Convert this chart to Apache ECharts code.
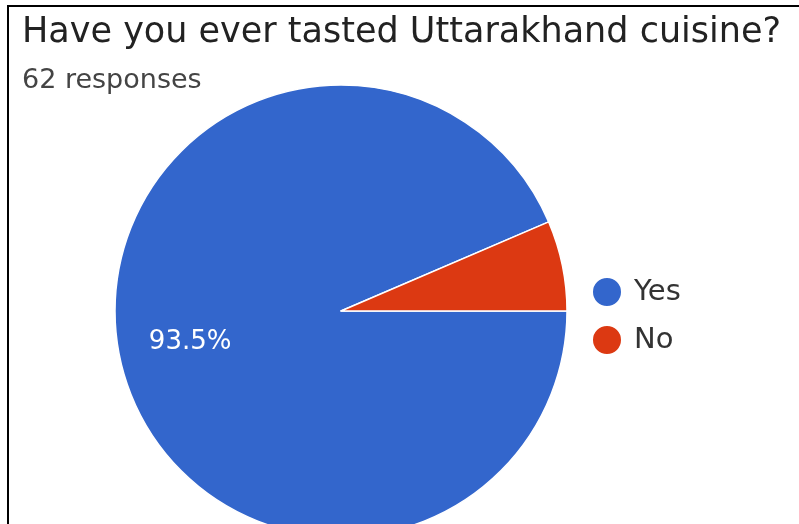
<!DOCTYPE html>
<html>
<head>
<meta charset="utf-8">
<script src="https://cdn.jsdelivr.net/npm/echarts@6/dist/echarts.min.js"></script>
<style>
html,body{margin:0;padding:0;background:#fff;}
#chart{width:799px;height:524px;}
</style>
</head>
<body>
<div id="chart"></div>
<script>
const titleText = "Have you ever tasted Uttarakhand cuisine?";
const subtitleText = "62 responses";
const categories = ["Yes", "No"];
const counts = [58, 4];
const colors = ["#3366cc", "#dc3912"];

const total = counts.reduce((a, b) => a + b, 0);
const pieData = categories.map((c, i) => ({ name: c, value: counts[i], itemStyle: { color: colors[i] } }));
const FONT = 'DejaVu Sans';

const chart = echarts.init(document.getElementById('chart'), null, { renderer: 'canvas' });
chart.setOption({
  backgroundColor: '#ffffff',
  animation: false,
  title: [
    { text: titleText, left: 17, top: 10, textStyle: { fontFamily: FONT, fontSize: 35, fontWeight: 'normal', color: '#222222' } },
    { text: subtitleText, left: 17, top: 62, textStyle: { fontFamily: FONT, fontSize: 27, fontWeight: 'normal', color: '#444444' } }
  ],
  legend: {
    orient: 'vertical',
    left: 586,
    top: 271,
    icon: 'circle',
    itemWidth: 30,
    itemHeight: 30,
    itemGap: 16,
    data: categories,
    textStyle: { fontFamily: FONT, fontSize: 29, color: '#333333', padding: [0, 0, 0, 7] }
  },
  graphic: [
    { type: 'line', shape: { x1: 7, y1: 6, x2: 799, y2: 6 }, style: { stroke: '#000', lineWidth: 2 } },
    { type: 'line', shape: { x1: 8, y1: 6, x2: 8, y2: 524 }, style: { stroke: '#000', lineWidth: 2 } }
  ],
  series: [
    {
      type: 'pie',
      center: [341, 311],
      radius: [0, 226],
      startAngle: 0,
      clockwise: true,
      silent: true,
      data: pieData,
      itemStyle: { borderColor: '#ffffff', borderWidth: 1.5 },
      label: { show: false },
      labelLine: { show: false }
    },
    {
      type: 'pie',
      center: [341, 311],
      radius: [78, 224],
      startAngle: 0,
      clockwise: true,
      silent: true,
      minShowLabelAngle: 30,
      data: pieData.map(d => ({ name: d.name, value: d.value })),
      itemStyle: { color: 'rgba(0,0,0,0)' },
      label: {
        show: true,
        position: 'inside',
        formatter: p => (p.value / total * 100).toFixed(1) + '%',
        fontFamily: FONT,
        fontSize: 26,
        color: '#ffffff'
      },
      labelLine: { show: false }
    }
  ]
});
</script>
</body>
</html>
